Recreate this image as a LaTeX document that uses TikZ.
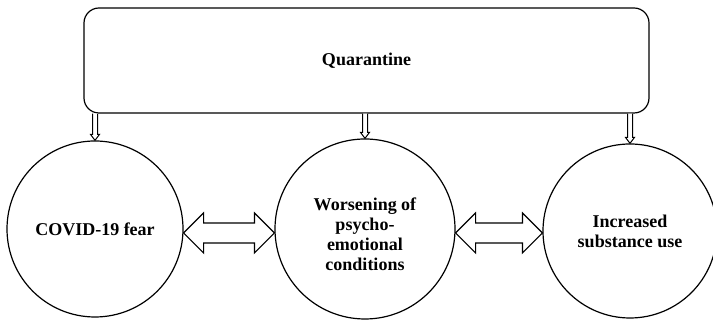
\documentclass[tikz,border=0pt]{standalone}
\usepackage{fontspec}
\setmainfont{Liberation Serif}
\usetikzlibrary{calc}
\tikzstyle{box}=[rectangle,rounded corners=7.5pt,draw=black,line width=0.6pt,
  minimum width=282.5pt,minimum height=52.5pt,inner sep=0pt,font=\bfseries]
\tikzstyle{circ}=[circle,draw=black,line width=0.6pt,inner sep=0pt,
  align=center,font=\bfseries\fontsize{9}{10}\selectfont]
\tikzstyle{blk}=[draw=black,line width=0.6pt,fill=white,line join=miter]
\newcommand{\downblk}[2]{%
  \draw[blk,line width=0.5pt] ($(#1)+(-1.25pt,0)$) -- ($(#2)+(-1.25pt,3pt)$)
    -- ($(#2)+(-2.25pt,3pt)$) -- (#2) -- ($(#2)+(2.25pt,3pt)$)
    -- ($(#2)+(1.25pt,3pt)$) -- ($(#1)+(1.25pt,0)$);}
\newcommand{\twoblk}[2]{%
  \draw[blk] (#1) -- ($(#1)+(10pt,10pt)$) -- ($(#1)+(10pt,5pt)$)
    -- ($(#2)+(-10pt,5pt)$) -- ($(#2)+(-10pt,10pt)$) -- (#2)
    -- ($(#2)+(-10pt,-10pt)$) -- ($(#2)+(-10pt,-5pt)$)
    -- ($(#1)+(10pt,-5pt)$) -- ($(#1)+(10pt,-10pt)$) -- cycle;}

\begin{document}
\begin{tikzpicture}[x=0.5pt,y=0.5pt]
    \useasboundingbox (0,0) rectangle (713,320);
    \node [style=box] (quar) at (366.5,259.5) {\fontsize{9}{10}\selectfont Quarantine};
    \node [style=circ,minimum size=88pt] (fear) at (95,91) {COVID-19 fear};
    \node [style=circ,minimum size=90pt] (worse) at (365,91)
      {\\[2pt]Worsening of\\psycho-\\emotional\\conditions};
    \node [style=circ,minimum size=87pt] (subst) at (630,89) {Increased\\substance use};
    \coordinate (fear top) at (quar.south -| fear.north);
    \coordinate (worse top) at (quar.south -| worse.north);
    \coordinate (subst top) at (quar.south -| subst.north);
    \downblk{fear top}{fear.north}
    \downblk{worse top}{worse.north}
    \downblk{subst top}{subst.north}
    \coordinate (a1) at ([yshift=-2pt]fear.east);
    \coordinate (a2) at ([yshift=-2pt]worse.west);
    \coordinate (a3) at ([yshift=-2pt]worse.east);
    \coordinate (a4) at (a3 -| subst.west);
    \twoblk{a1}{a2}
    \twoblk{a3}{a4}
  \end{tikzpicture}
\end{document}
